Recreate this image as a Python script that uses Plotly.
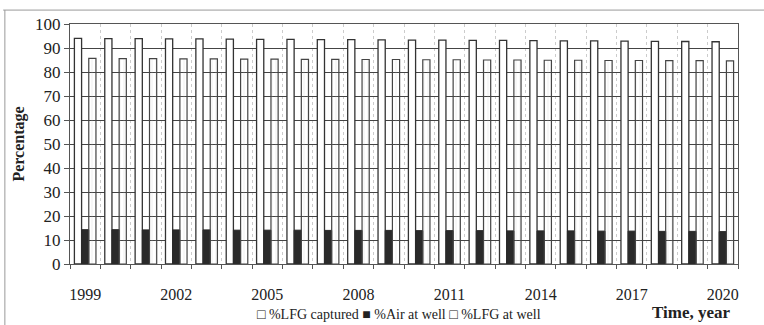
import plotly.graph_objects as go

years = list(range(1999, 2021))
lfg_captured = [94.0, 93.9, 93.9, 93.8, 93.8, 93.7, 93.6, 93.6, 93.5, 93.5, 93.4,
                93.3, 93.3, 93.2, 93.2, 93.1, 93.0, 93.0, 92.9, 92.8, 92.7, 92.6]
air_at_well = [14.3, 14.3, 14.2, 14.2, 14.2, 14.1, 14.1, 14.1, 14.0, 14.0, 14.0,
               13.9, 13.9, 13.9, 13.8, 13.8, 13.8, 13.7, 13.7, 13.6, 13.6, 13.5]
lfg_at_well = [85.7, 85.6, 85.6, 85.5, 85.5, 85.4, 85.4, 85.3, 85.3, 85.2, 85.2,
               85.1, 85.1, 85.0, 85.0, 84.9, 84.9, 84.8, 84.8, 84.7, 84.7, 84.6]
tick_years = [1999, 2002, 2005, 2008, 2011, 2014, 2017, 2020]
series_names = ["%LFG captured", "%Air at well", "%LFG at well"]
legend_marks = ["\u25a1", "\u25a0", "\u25a1"]

SERIF = "Liberation Serif"

fig = go.Figure()
fig.add_trace(go.Bar(x=years, y=lfg_captured, name=series_names[0],
                     marker=dict(color="white", line=dict(color="#333", width=1.3))))
fig.add_trace(go.Bar(x=years, y=air_at_well, name=series_names[1],
                     marker=dict(color="#2a2a2a", line=dict(color="#2a2a2a", width=1))))
fig.add_trace(go.Bar(x=years, y=lfg_at_well, name=series_names[2],
                     marker=dict(color="rgba(255,255,255,0)",
                                 line=dict(color="#444", width=1.2),
                                 pattern=dict(shape="|", size=4, solidity=0.12,
                                              fgcolor="#bbb", bgcolor="rgba(255,255,255,0)"))))

legend_text = " ".join(f"{m} {n}" for m, n in zip(legend_marks, series_names))

fig.update_layout(
    width=764, height=325,
    margin=dict(l=70, r=26, t=24, b=61, autoexpand=False),
    paper_bgcolor="white", plot_bgcolor="white",
    barmode="group", bargap=0.29, bargroupgap=0,
    font=dict(family=SERIF, color="#222"),
    showlegend=False,
    xaxis=dict(range=[1998.5, 2020.5], tickmode="array", tickvals=tick_years,
               ticks="", showgrid=False, zeroline=False,
               tickfont=dict(family=SERIF, size=16), ticklabelstandoff=16,
               showline=True, linecolor="#555", linewidth=1, mirror=True,
               minor=dict(tick0=1998.5, dtick=1, ticks="outside", ticklen=4,
                          tickcolor="#555", showgrid=True, gridcolor="#ccc",
                          griddash="dot", gridwidth=1)),
    yaxis=dict(range=[0, 100], dtick=10, showgrid=True, gridcolor="#444",
               gridwidth=1, zeroline=False, ticks="outside", ticklen=5,
               tickcolor="#555", tickfont=dict(family=SERIF, size=17),
               showline=True, linecolor="#555", linewidth=1, mirror=True,
               title=dict(text="<b>Percentage</b>", font=dict(family=SERIF, size=16),
                          standoff=6)),
    annotations=[
        dict(text="<b>Time, year</b>", xref="paper", yref="paper",
             x=0.9925, y=-0.2, xanchor="right", yanchor="middle",
             showarrow=False, font=dict(family=SERIF, size=17)),
        dict(text=legend_text, xref="paper", yref="paper",
             x=0.277, y=-0.21, xanchor="left", yanchor="middle",
             showarrow=False, font=dict(family=SERIF, size=14)),
    ],
    shapes=[
        dict(type="line", xref="paper", yref="paper", x0=-0.1, x1=1.05,
             y0=1.058, y1=1.058, line=dict(color="#999", width=1)),
        dict(type="line", xref="paper", yref="paper", x0=-0.0975, x1=-0.0975,
             y0=1.058, y1=-0.26, line=dict(color="#999", width=1)),
    ],
)

fig.write_html("out.html")
